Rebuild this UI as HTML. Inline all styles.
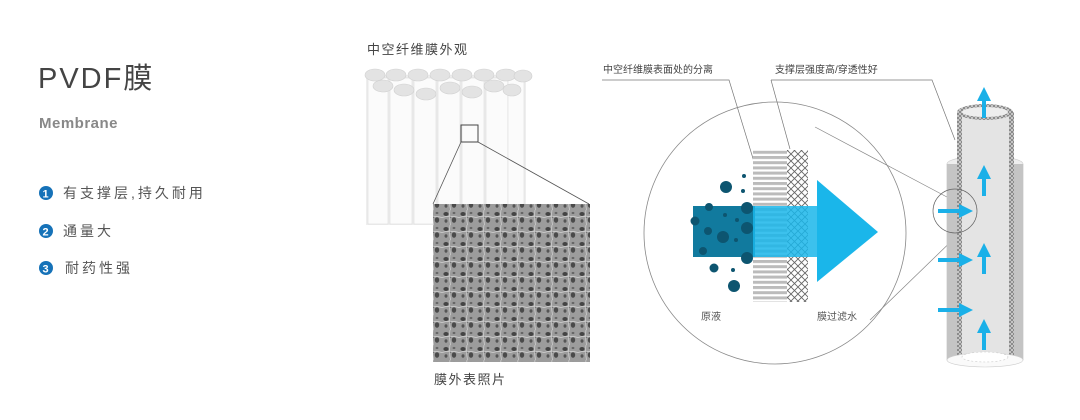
<!DOCTYPE html>
<html><head><meta charset="utf-8"><style>
html,body{margin:0;padding:0;background:#fff;width:1080px;height:420px;overflow:hidden}
svg{display:block}
text{font-family:"Liberation Sans","Noto Sans CJK SC",sans-serif}
</style></head><body>
<svg width="1080" height="420" viewBox="0 0 1080 420">
<defs>
<pattern id="hx" width="7" height="7" patternUnits="userSpaceOnUse">
<rect width="7" height="7" fill="#fff"/><path d="M0 0L7 7M7 0L0 7" stroke="#666" stroke-width="0.9"/></pattern>
<pattern id="hs" width="4" height="4" patternUnits="userSpaceOnUse">
<rect width="4" height="4" fill="#ccc"/><path d="M0 0L4 4M4 0L0 4" stroke="#666" stroke-width="0.6"/></pattern>
<pattern id="st" width="10" height="5.2" patternUnits="userSpaceOnUse">
<rect width="10" height="5.2" fill="#fff"/><rect width="10" height="3" fill="#bbb"/></pattern>
<pattern id="mic" width="17" height="15" patternUnits="userSpaceOnUse">
<rect width="17" height="15" fill="#9c9c9c"/><ellipse cx="4" cy="4" rx="2.6" ry="2" fill="#444"/><ellipse cx="12" cy="10" rx="2.2" ry="2.8" fill="#4a4a4a"/><ellipse cx="12" cy="3" rx="1.4" ry="1.1" fill="#666"/><ellipse cx="4" cy="11" rx="1.5" ry="1.7" fill="#555"/><ellipse cx="8" cy="7" rx="1" ry="1" fill="#666"/><path d="M0 7.5Q8 5 17 7.5M8 0Q7 7 8.5 15" stroke="#d4d4d4" stroke-width="0.7" fill="none"/></pattern>
<marker id="ah" markerUnits="userSpaceOnUse" markerWidth="16" markerHeight="16" refX="1" refY="8" orient="auto"><path d="M0 1L14 8L0 15z" fill="#1ab0e8"/></marker>
</defs>
<!-- left text -->
<text x="38" y="88" font-size="29" fill="#444" letter-spacing="2">PVDF膜</text>
<text x="39" y="128" font-size="15" fill="#888" font-weight="bold" letter-spacing="0.5">Membrane</text>
<g font-size="14" fill="#555" letter-spacing="3">
<circle cx="46" cy="193" r="7" fill="#1672b8"/><text x="42.5" y="197.5" font-size="11" fill="#fff" font-weight="bold" letter-spacing="0">1</text><text x="63" y="198">有支撑层,持久耐用</text>
<circle cx="46" cy="231" r="7" fill="#1672b8"/><text x="42.5" y="235.5" font-size="11" fill="#fff" font-weight="bold" letter-spacing="0">2</text><text x="63" y="236">通量大</text>
<circle cx="46" cy="268" r="7" fill="#1672b8"/><text x="42.5" y="272.5" font-size="11" fill="#fff" font-weight="bold" letter-spacing="0">3</text><text x="65" y="273">耐药性强</text>
</g>
<!-- tube bundle -->
<text x="367" y="54" font-size="13" fill="#444" letter-spacing="1.5">中空纤维膜外观</text>
<rect x="366" y="75" width="160" height="150" fill="#eeeeee"/>
<g fill="#fbfbfb" stroke="#dcdcdc" stroke-width="0.6">
<rect x="368" y="78" width="20" height="146"/><rect x="390" y="78" width="22" height="146"/><rect x="414" y="78" width="22" height="146"/><rect x="438" y="78" width="22" height="146"/><rect x="462" y="78" width="22" height="146"/><rect x="486" y="78" width="22" height="146"/><rect x="508" y="78" width="16" height="146"/>
</g>
<g fill="#e3e3e3" stroke="#d0d0d0" stroke-width="0.6">
<ellipse cx="375" cy="75" rx="10" ry="6"/><ellipse cx="396" cy="75" rx="10" ry="6"/><ellipse cx="418" cy="75" rx="10" ry="6"/><ellipse cx="440" cy="75" rx="10" ry="6"/><ellipse cx="462" cy="75" rx="10" ry="6"/><ellipse cx="484" cy="75" rx="10" ry="6"/><ellipse cx="506" cy="75" rx="10" ry="6"/><ellipse cx="523" cy="76" rx="9" ry="6"/>
<ellipse cx="383" cy="86" rx="10" ry="6"/><ellipse cx="404" cy="90" rx="10" ry="6"/><ellipse cx="426" cy="94" rx="10" ry="6"/><ellipse cx="450" cy="88" rx="10" ry="6"/><ellipse cx="472" cy="92" rx="10" ry="6"/><ellipse cx="494" cy="86" rx="10" ry="6"/><ellipse cx="512" cy="90" rx="9" ry="6"/>
</g>
<rect x="461" y="125" width="17" height="17" fill="none" stroke="#444" stroke-width="1"/>
<path d="M461 142L433 204M478 142L589 204" stroke="#555" stroke-width="0.8"/>
<rect x="433" y="204" width="157" height="158" fill="url(#mic)"/>
<text x="434" y="384" font-size="13" fill="#444" letter-spacing="1.5">膜外表照片</text>
<!-- callouts -->
<text x="603" y="73" font-size="10" fill="#444">中空纤维膜表面处的分离</text>
<text x="775" y="73" font-size="10" fill="#444">支撑层强度高/穿透性好</text>
<path d="M602 80H729L755 165M771 80L790 149M771 80H932L955 140" stroke="#777" stroke-width="0.7" fill="none"/>
<circle cx="775" cy="233" r="131" fill="none" stroke="#888" stroke-width="0.8"/>
<path d="M815 127L962 205M870 320L965 228" stroke="#888" stroke-width="0.7"/>
<!-- membrane detail -->
<rect x="753" y="150" width="34" height="152" fill="url(#st)"/>
<rect x="787" y="150" width="21" height="152" fill="url(#hx)"/>
<rect x="693" y="206" width="62" height="51" fill="#117a9e"/>
<rect x="753" y="206" width="65" height="51" fill="#1ab6ea" opacity="0.85"/>
<path d="M817 180L878 232L817 282z" fill="#1ab6ea"/>
<g fill="#0d5570">
<circle cx="726" cy="187" r="6"/><circle cx="744" cy="176" r="2"/><circle cx="743" cy="191" r="2"/><circle cx="709" cy="207" r="4"/><circle cx="747" cy="208" r="6"/><circle cx="695" cy="221" r="4.5"/><circle cx="725" cy="215" r="2"/><circle cx="737" cy="220" r="2"/><circle cx="708" cy="231" r="4"/><circle cx="723" cy="237" r="6"/><circle cx="747" cy="228" r="6"/><circle cx="736" cy="240" r="2"/><circle cx="703" cy="251" r="4"/><circle cx="747" cy="258" r="6"/><circle cx="714" cy="268" r="4.5"/><circle cx="733" cy="270" r="2"/><circle cx="734" cy="286" r="6"/>
</g>
<text x="701" y="320" font-size="10" fill="#555">原液</text>
<text x="817" y="320" font-size="10" fill="#555">膜过滤水</text>
<!-- tube -->
<rect x="947" y="164" width="76" height="196" fill="#e8e8e8" stroke="#bbb" stroke-width="0.6"/>
<ellipse cx="985" cy="164" rx="38" ry="8" fill="#eee" stroke="#ccc" stroke-width="0.6"/>
<rect x="947" y="164" width="10" height="196" fill="#c4c4c4"/>
<rect x="1014" y="164" width="9" height="196" fill="#c4c4c4"/>
<rect x="957" y="112" width="57" height="248" fill="#e4e4e4"/>
<rect x="957" y="112" width="5" height="248" fill="url(#hs)"/>
<rect x="1009" y="112" width="5" height="248" fill="url(#hs)"/>
<ellipse cx="985" cy="112" rx="28" ry="8" fill="url(#hs)"/>
<ellipse cx="985" cy="112" rx="23" ry="5" fill="#eee"/>
<ellipse cx="985" cy="360" rx="38" ry="7" fill="#fafafa" stroke="#ccc" stroke-width="0.6"/>
<ellipse cx="985" cy="357" rx="23" ry="5" fill="#fff" stroke="#ccc" stroke-dasharray="2 2" stroke-width="0.6"/>
<g stroke="#1ab0e8" stroke-width="4" fill="none" marker-end="url(#ah)">
<path d="M984 118V100"/><path d="M984 196V178"/><path d="M984 274V256"/><path d="M984 350V332"/>
<path d="M938 211H960"/><path d="M938 260H960"/><path d="M938 310H960"/>
</g>
<circle cx="955" cy="211" r="22" fill="none" stroke="#666" stroke-width="0.7"/>
</svg>
</body></html>
